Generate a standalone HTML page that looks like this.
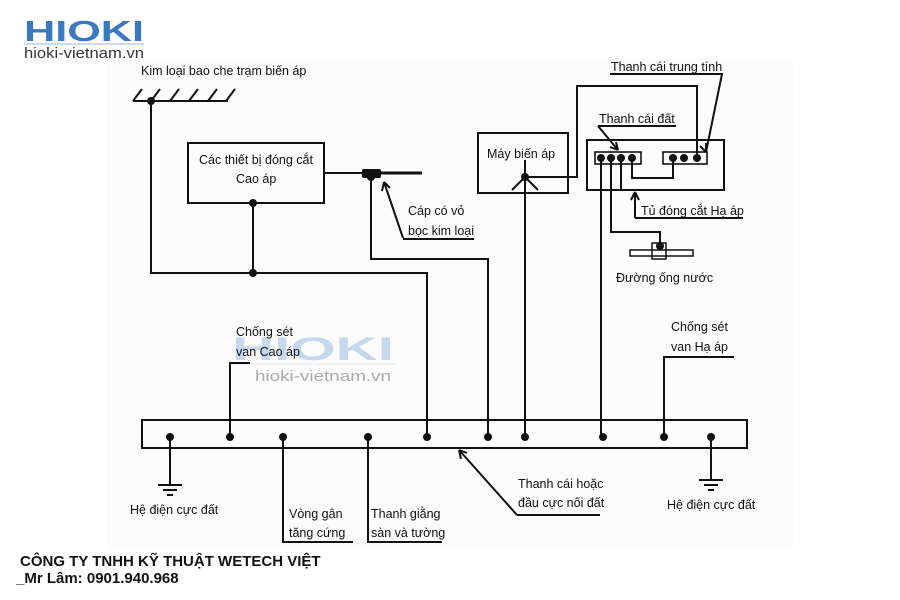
<!DOCTYPE html>
<html><head><meta charset="utf-8"><style>
body{margin:0;background:#fff;width:900px;height:600px;overflow:hidden}
svg{display:block}
text{font-family:"Liberation Sans",sans-serif;fill:#111}
.t{font-size:12.5px;font-family:"Liberation Sans Narrow","Liberation Sans",sans-serif}
</style></head><body>
<svg width="900" height="600" viewBox="0 0 900 600">
<rect x="107" y="58" width="686" height="492" fill="#fcfcfc"/>
<!-- logo -->
<text x="24" y="41" font-size="29" font-weight="bold" style="fill:#3a78c2" textLength="120" lengthAdjust="spacingAndGlyphs">HIOKI</text>
<line x1="24" y1="44" x2="144" y2="44" stroke="#9ab8dc" stroke-width="1"/>
<text x="24" y="58" font-size="15" style="fill:#333" textLength="120" lengthAdjust="spacingAndGlyphs">hioki-vietnam.vn</text>
<!-- watermark -->
<text x="232" y="360" font-size="32" font-weight="bold" style="fill:#c5d8ee" textLength="162" lengthAdjust="spacingAndGlyphs">HIOKI</text>
<line x1="232" y1="364" x2="395" y2="364" stroke="#dde6f0"/>
<text x="255" y="381" font-size="15" style="fill:#aaa" textLength="136" lengthAdjust="spacingAndGlyphs">hioki-vietnam.vn</text>

<g stroke="#111" stroke-width="2" fill="none">
<line x1="133" y1="101" x2="228" y2="101"/>
<path d="M133 101 l9 -12 M151 101 l9 -12 M170 101 l9 -12 M189 101 l9 -12 M208 101 l9 -12 M226 101 l9 -12"/>
<path d="M151 101 V273 H427 V437"/>
<rect x="188" y="143" width="136" height="60"/>
<line x1="253" y1="203" x2="253" y2="273"/>
<line x1="324" y1="173" x2="422" y2="173"/>
<line x1="381" y1="173" x2="422" y2="173" stroke-width="3"/>
<path d="M371 177 V259 H488 V437"/>
<path d="M403 238 L384 182 M384 182 l-2 9 M384 182 l6 6 M403 239 H474"/>
<rect x="478" y="133" width="90" height="60"/>
<path d="M525 160 V437 M525 177 L512 190 M525 177 L538 190 M525 177 H577 V86 H697 V156"/>
<rect x="587" y="140" width="137" height="50"/>
<rect x="595" y="152" width="46" height="12" stroke-width="1.6"/>
<rect x="663" y="152" width="44" height="12" stroke-width="1.6"/>
<path d="M632 158 V178 H673 V158"/>
<path d="M601 158 V437 M611 158 V232 H660 V246 M621 158 V190"/>
<path d="M630 250 H693 V256 H630 Z" stroke-width="1.5"/>
<rect x="652" y="243" width="14" height="16" stroke-width="1.5"/>
<path d="M610 74 H722 L706 152 M706 152 l0 -9 M706 152 l-6 -6"/>
<path d="M598 126 H676 M598 126 L618 150 M618 150 l-2 -8 M618 150 l-8 -3"/>
<path d="M635 218 H743 M635 218 V192 M635 192 l-4 8 M635 192 l4 8"/>
<rect x="142" y="420" width="605" height="28"/>
<path d="M230 437 V363 H250"/>
<path d="M664 437 V357 H734"/>
<path d="M170 437 V485 M158 485 H182 M163 490 H177 M167 495 H173"/>
<path d="M711 437 V480 M699 480 H723 M704 485 H718 M708 490 H714"/>
<path d="M283 437 V542 H353"/>
<path d="M368 437 V542 H442"/>
<path d="M517 515 L459 450 M459 450 l2 9 M459 450 l8 3 M517 515 H600"/>
</g>
<g fill="#111">
<circle cx="151" cy="101" r="4"/><circle cx="253" cy="203" r="4"/><circle cx="253" cy="273" r="4"/>
<rect x="362" y="169" width="19" height="9" rx="2"/><circle cx="371" cy="177" r="4"/>
<circle cx="525" cy="177" r="4"/>
<circle cx="601" cy="158" r="4"/><circle cx="611" cy="158" r="4"/><circle cx="621" cy="158" r="4"/><circle cx="632" cy="158" r="4"/>
<circle cx="673" cy="158" r="4"/><circle cx="684" cy="158" r="4"/><circle cx="697" cy="158" r="4"/>
<circle cx="660" cy="246" r="4"/>
<circle cx="170" cy="437" r="4"/><circle cx="230" cy="437" r="4"/><circle cx="283" cy="437" r="4"/><circle cx="368" cy="437" r="4"/><circle cx="427" cy="437" r="4"/><circle cx="488" cy="437" r="4"/><circle cx="525" cy="437" r="4"/><circle cx="603" cy="437" r="4"/><circle cx="664" cy="437" r="4"/><circle cx="711" cy="437" r="4"/>
</g>
<g class="t">
<text x="141" y="75">Kim loại bao che trạm biến áp</text>
<text x="199" y="164">Các thiết bị đóng cắt</text>
<text x="236" y="183">Cao áp</text>
<text x="408" y="215">Cáp có vỏ</text>
<text x="408" y="235">bọc kim loại</text>
<text x="487" y="158">Máy biến áp</text>
<text x="611" y="71">Thanh cái trung tính</text>
<text x="599" y="123">Thanh cái đất</text>
<text x="641" y="215">Tủ đóng cắt Hạ áp</text>
<text x="616" y="282">Đường ống nước</text>
<text x="236" y="336">Chống sét</text>
<text x="236" y="356">van Cao áp</text>
<text x="671" y="331">Chống sét</text>
<text x="671" y="351">van Hạ áp</text>
<text x="130" y="514">Hệ điện cực đất</text>
<text x="667" y="509">Hệ điện cực đất</text>
<text x="289" y="518">Vòng gân</text>
<text x="289" y="537">tăng cứng</text>
<text x="371" y="518">Thanh giằng</text>
<text x="371" y="537">sàn và tường</text>
<text x="518" y="488">Thanh cái hoặc</text>
<text x="518" y="507">đầu cực nối đất</text>
</g>
<text x="20" y="566" font-size="15" font-weight="bold">CÔNG TY TNHH KỸ THUẬT WETECH VIỆT</text>
<text x="16" y="583" font-size="15" font-weight="bold">_Mr Lâm: 0901.940.968</text>
</svg>
</body></html>
